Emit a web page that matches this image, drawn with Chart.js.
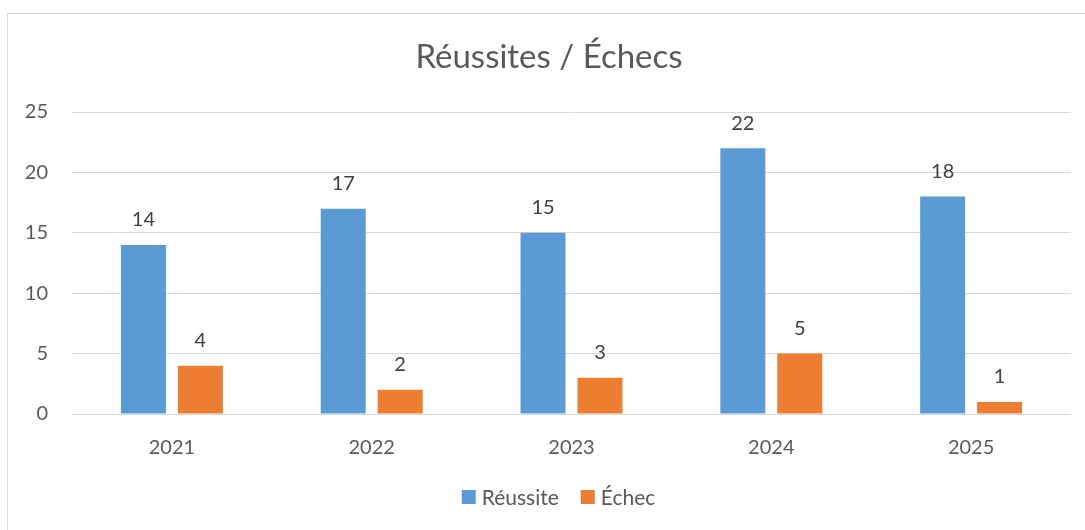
<!DOCTYPE html>
<html><head><meta charset="utf-8">
<script src="https://cdn.jsdelivr.net/npm/chart.js@4/dist/chart.umd.min.js"></script>
<style>
html,body{margin:0;padding:0;background:#fff;overflow:hidden;}
#frame{position:absolute;left:7px;top:13px;width:1200px;height:600px;border:1px solid #d9d9d9;box-sizing:border-box;}
#c{position:absolute;left:0;top:0;}
</style></head>
<body>
<div id="frame"></div>
<canvas id="c" width="1085" height="530"></canvas>
<script>
const categories = ["2021","2022","2023","2024","2025"];
const reussite = [14,17,15,22,18];
const echec = [4,2,3,5,1];
const seriesNames = ["Réussite","Échec"];
const seriesColors = ["#5B9BD5","#ED7D31"];
const titleText = "Réussites / Échecs";
const FONT = "Lato, 'Open Sans', sans-serif";

const valueLabels = {
  id:'valueLabels',
  afterDatasetsDraw(chart){
    const ctx = chart.ctx;
    ctx.save();
    ctx.font = "20px " + FONT;
    ctx.fillStyle = "#404040";
    ctx.textAlign = "center";
    ctx.textBaseline = "middle";
    chart.data.datasets.forEach((ds,i)=>{
      chart.getDatasetMeta(i).data.forEach((bar,j)=>{
        ctx.fillText(String(ds.data[j]), bar.x, bar.y - 25);
      });
    });
    ctx.restore();
  }
};

const titleAndLegend = {
  id:'titleAndLegend',
  afterDraw(chart){
    const ctx = chart.ctx;
    ctx.save();
    // title
    ctx.font = "33px " + FONT;
    ctx.fillStyle = "#595959";
    ctx.textAlign = "center";
    ctx.textBaseline = "middle";
    ctx.fillText(titleText, 549, 57);
    // legend
    ctx.font = "21px " + FONT;
    ctx.textAlign = "left";
    const box = 14, gapText = 6, gapItem = 22;
    const items = chart.data.datasets.map(ds=>({label:ds.label,color:ds.backgroundColor,w:ctx.measureText(ds.label).width}));
    let total = 0;
    items.forEach((it,i)=>{ total += box + gapText + it.w + (i<items.length-1?gapItem:0); });
    let x = 558.5 - total/2;
    const y = 497;
    items.forEach(it=>{
      ctx.fillStyle = it.color;
      ctx.fillRect(x, y - box/2, box, box);
      x += box + gapText;
      ctx.fillStyle = "#595959";
      ctx.fillText(it.label, x, y + 1);
      x += it.w + gapItem;
    });
    ctx.restore();
  }
};

new Chart(document.getElementById('c'),{
  type:'bar',
  data:{
    labels:categories,
    datasets:[
      {label:seriesNames[0],data:reussite,backgroundColor:seriesColors[0]},
      {label:seriesNames[1],data:echec,backgroundColor:seriesColors[1]}
    ]
  },
  options:{
    responsive:false,
    animation:false,
    devicePixelRatio:1,
    datasets:{bar:{categoryPercentage:0.57,barPercentage:0.79}},
    layout:{padding:{left:0,right:14,top:112,bottom:48}},
    plugins:{
      title:{display:false},
      legend:{display:false},
      tooltip:{enabled:false}
    },
    scales:{
      x:{grid:{display:false,drawTicks:false},border:{display:false},
         ticks:{color:'#595959',font:{family:FONT,size:20},padding:22}},
      y:{min:0,max:25,
         ticks:{stepSize:5,color:'#595959',font:{family:FONT,size:20},padding:24},
         grid:{color:'#d9d9d9',lineWidth:1,drawTicks:false},
         border:{display:false},
         afterFit(s){s.width=72;}}
    }
  },
  plugins:[valueLabels,titleAndLegend]
});
</script>
</body></html>
